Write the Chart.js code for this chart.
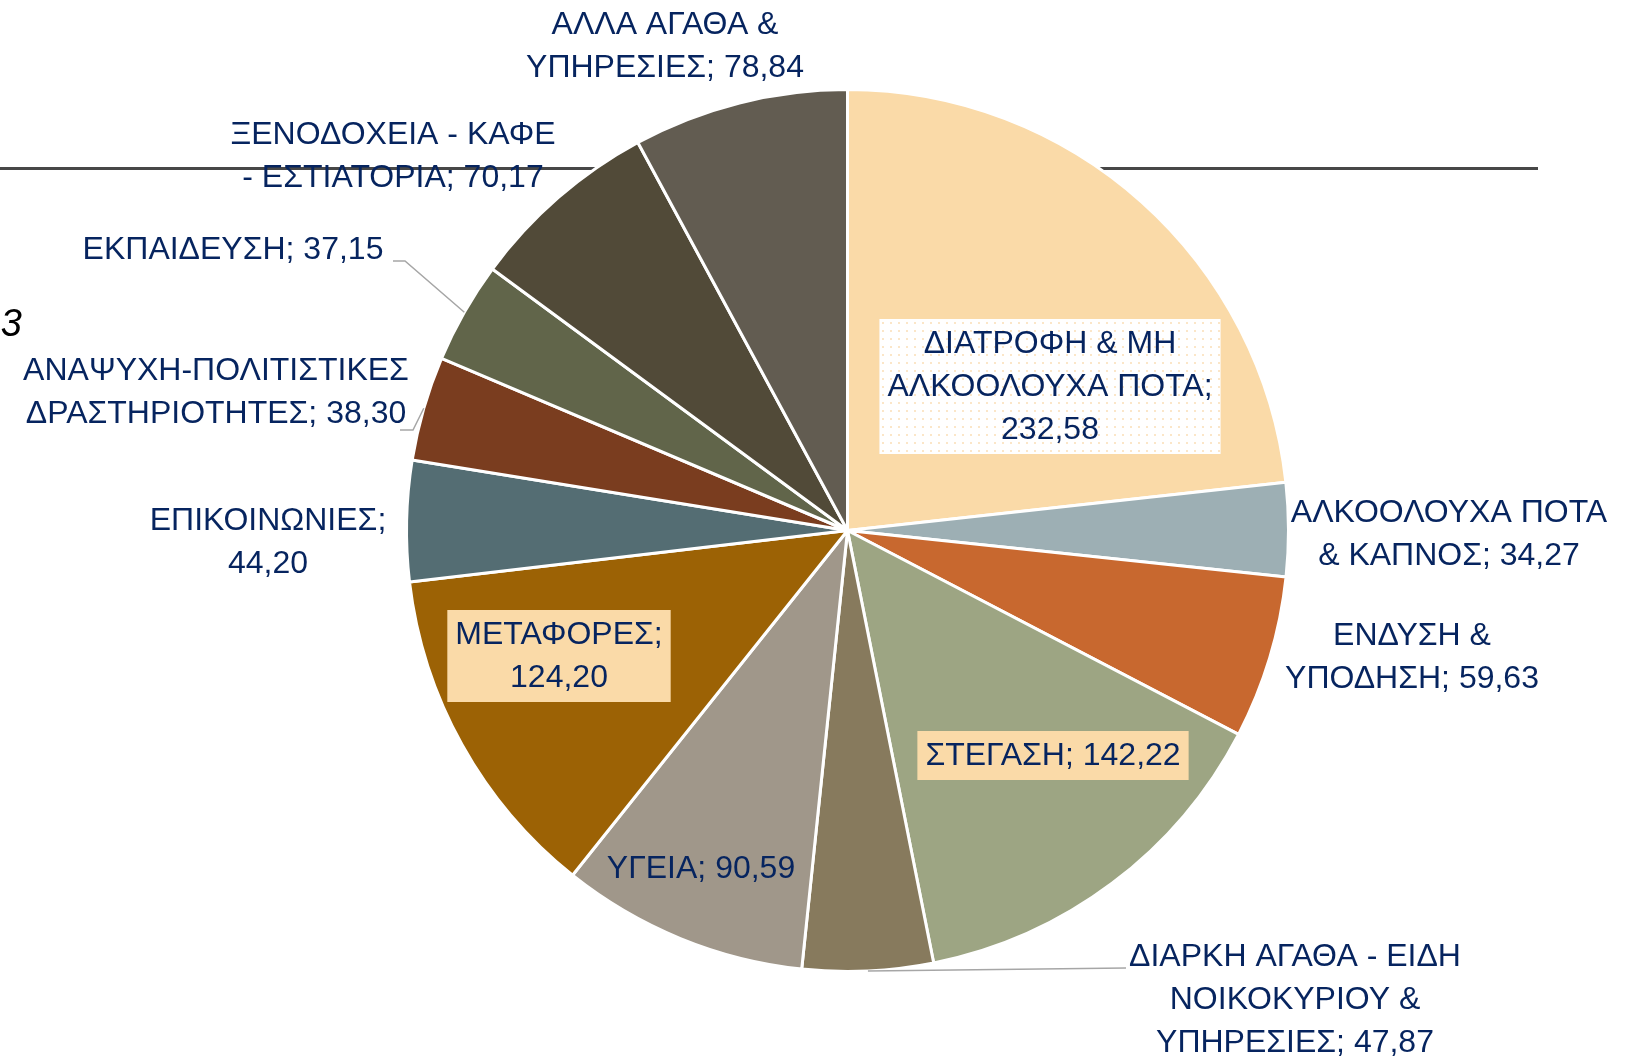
<!DOCTYPE html>
<html>
<head>
<meta charset="utf-8">
<script src="https://cdn.jsdelivr.net/npm/chart.js@4.4.1/dist/chart.umd.min.js"></script>
<style>
    html, body { margin: 0; padding: 0; background: #fff; overflow: hidden; }
    #pieChart { display: block; }
</style>
</head>
<body>
<canvas id="pieChart" width="1635" height="1059"></canvas>
<script>
(function () {

    var categories = [
        "ΔΙΑΤΡΟΦΗ & ΜΗ ΑΛΚΟΟΛΟΥΧΑ ΠΟΤΑ",
        "ΑΛΚΟΟΛΟΥΧΑ ΠΟΤΑ & ΚΑΠΝΟΣ",
        "ΕΝΔΥΣΗ & ΥΠΟΔΗΣΗ",
        "ΣΤΕΓΑΣΗ",
        "ΔΙΑΡΚΗ ΑΓΑΘΑ - ΕΙΔΗ ΝΟΙΚΟΚΥΡΙΟΥ & ΥΠΗΡΕΣΙΕΣ",
        "ΥΓΕΙΑ",
        "ΜΕΤΑΦΟΡΕΣ",
        "ΕΠΙΚΟΙΝΩΝΙΕΣ",
        "ΑΝΑΨΥΧΗ-ΠΟΛΙΤΙΣΤΙΚΕΣ ΔΡΑΣΤΗΡΙΟΤΗΤΕΣ",
        "ΕΚΠΑΙΔΕΥΣΗ",
        "ΞΕΝΟΔΟΧΕΙΑ - ΚΑΦΕ - ΕΣΤΙΑΤΟΡΙΑ",
        "ΑΛΛΑ ΑΓΑΘΑ & ΥΠΗΡΕΣΙΕΣ"
    ];

    var values = [232.58, 34.27, 59.63, 142.22, 47.87, 90.59, 124.20, 44.20, 38.30, 37.15, 70.17, 78.84];

    var colors = [
        "#FADAA8", "#9DAFB4", "#C8682F", "#9DA583",
        "#877A5D", "#A0978A", "#9C6205", "#546D73",
        "#7A3D1F", "#61654A", "#514A38", "#625C51"
    ];

    // words per line of each data label
    var lineWords = [[3, 2, 1], [2, 3], [2, 2], [2], [4, 2, 2], [2], [1, 1], [1, 1], [1, 2], [2], [3, 3], [3, 2]];

    // label centre x / first line y, box style and leader bends
    var labelPos = [
        [1050, 344], [1449, 513], [1412, 636], [1053, 756],
        [1295, 957], [701, 869], [559, 635], [268, 521],
        [216, 371], [233, 250], [393, 135], [665, 25]
    ];
    var labelBox = ["dots", null, null, "peach", null, null, "peach", null, null, null, null, null];
    var leaders = {
        4: [[1126, 968]],
        8: [[413, 430], [400, 430]],
        9: [[405, 261], [393, 261]]
    };

    var textColor = "#06245F";
    var lineHeight = 43;
    var labelFont = "32px 'Liberation Sans', Arial, sans-serif";

    function fmt(v) {
        return v.toFixed(2).replace(".", ",");
    }

    function labelLines(i) {
        var words = (categories[i] + "; " + fmt(values[i])).split(" ");
        var out = [];
        var k = 0;
        for (var j = 0; j < lineWords[i].length; j++) {
            out.push(words.slice(k, k + lineWords[i][j]).join(" "));
            k += lineWords[i][j];
        }
        return out;
    }

    function dotPattern(ctx) {
        var c = document.createElement("canvas");
        c.width = 8;
        c.height = 8;
        var p = c.getContext("2d");
        p.fillStyle = "#ffffff";
        p.fillRect(0, 0, 8, 8);
        p.fillStyle = "#FBE6C8";
        p.fillRect(2, 2, 2, 2);
        return ctx.createPattern(c, "repeat");
    }

    var backdropPlugin = {
        id: "backdrop",
        beforeDatasetsDraw: function (chart) {
            var ctx = chart.ctx;
            ctx.save();
            ctx.strokeStyle = "#474747";
            ctx.lineWidth = 3;
            ctx.beginPath();
            ctx.moveTo(0, 168.5);
            ctx.lineTo(1538, 168.5);
            ctx.stroke();

            ctx.fillStyle = "#000000";
            ctx.font = "italic 38px 'Liberation Sans', Arial, sans-serif";
            ctx.textAlign = "right";
            ctx.textBaseline = "alphabetic";
            ctx.fillText("3", 22, 336);
            ctx.restore();
        }
    };

    var labelPlugin = {
        id: "sliceLabels",
        afterDatasetsDraw: function (chart) {
            var ctx = chart.ctx;
            var arcs = chart.getDatasetMeta(0).data;
            ctx.save();
            ctx.font = labelFont;
            ctx.textAlign = "center";
            ctx.textBaseline = "middle";

            for (var i = 0; i < values.length; i++) {
                var lines = labelLines(i);
                var cx = labelPos[i][0];
                var y0 = labelPos[i][1];

                if (leaders[i]) {
                    var a = arcs[i];
                    var mid = (a.startAngle + a.endAngle) / 2;
                    ctx.strokeStyle = "#A6A6A6";
                    ctx.lineWidth = 1.5;
                    ctx.beginPath();
                    ctx.moveTo(a.x + Math.cos(mid) * a.outerRadius, a.y + Math.sin(mid) * a.outerRadius);
                    leaders[i].forEach(function (pt) {
                        ctx.lineTo(pt[0], pt[1]);
                    });
                    ctx.stroke();
                }

                if (labelBox[i]) {
                    var w = 0;
                    lines.forEach(function (l) {
                        w = Math.max(w, ctx.measureText(l).width);
                    });
                    var top = y0 - 25;
                    var bottom = y0 + (lines.length - 1) * lineHeight + 24;
                    ctx.fillStyle = labelBox[i] === "dots" ? dotPattern(ctx) : "#FADAA8";
                    ctx.fillRect(cx - w / 2 - 8, top, w + 16, bottom - top);
                }

                ctx.fillStyle = textColor;
                for (var j = 0; j < lines.length; j++) {
                    ctx.fillText(lines[j], cx, y0 + j * lineHeight);
                }
            }
            ctx.restore();
        }
    };

    var pieCanvas = document.getElementById("pieChart").getContext("2d");

    new Chart(pieCanvas, {
        type: "pie",
        data: {
            labels: categories,
            datasets: [{
                data: values,
                backgroundColor: colors,
                borderColor: "#ffffff",
                borderWidth: 3
            }]
        },
        options: {
            responsive: false,
            animation: false,
            events: [],
            layout: {
                padding: { left: 405, right: 345, top: 88, bottom: 86 }
            },
            plugins: {
                legend: { display: false },
                tooltip: { enabled: false }
            }
        },
        plugins: [backdropPlugin, labelPlugin]
    });

})();
</script>
</body>
</html>
